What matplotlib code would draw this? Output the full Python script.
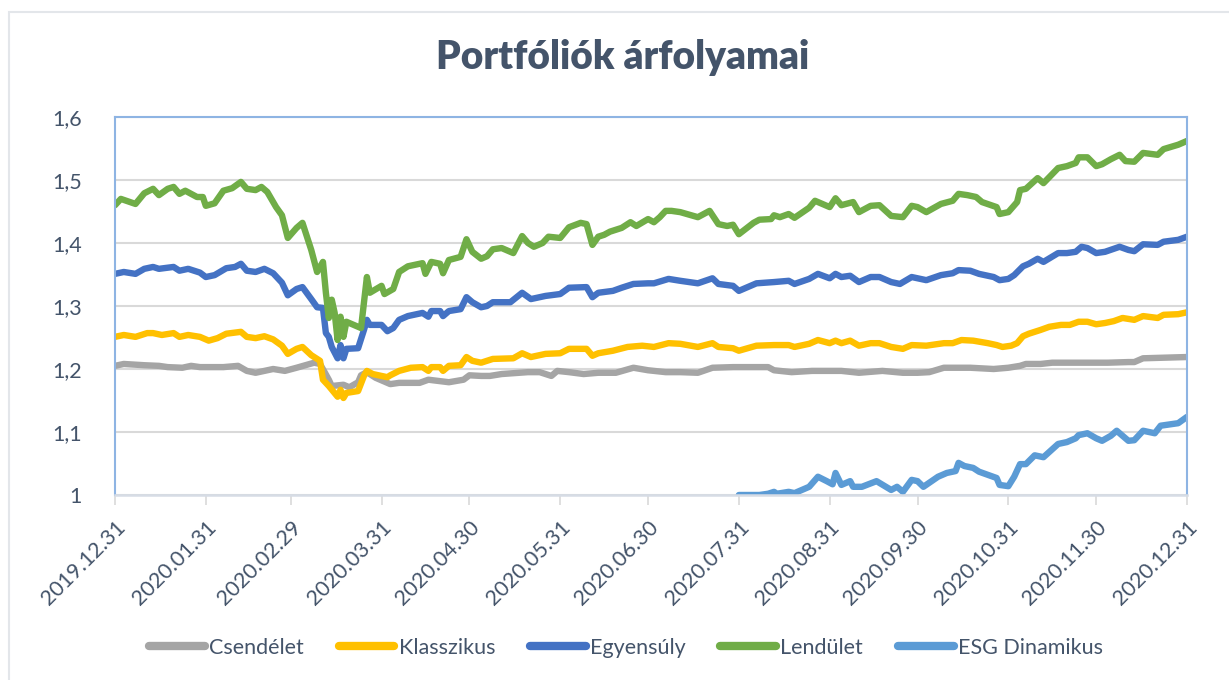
import numpy as np
import pandas as pd
import matplotlib
matplotlib.use('Agg')
import matplotlib.pyplot as plt
from matplotlib.patches import Rectangle
from matplotlib.ticker import FuncFormatter

plt.rcParams['font.family'] = ['Lato', 'DejaVu Sans']

# series: day offsets from 2019.12.31 and prices
csend_days = [0, 3, 10, 15, 18, 23, 26, 29, 33, 37, 42, 45, 48, 51, 54, 58, 62, 68, 70, 73, 74, 78, 80, 83,
              84, 86, 89, 94, 97, 104, 107, 114, 119, 121, 125, 128, 132, 141, 145, 149, 151, 155, 160, 165,
              171, 177, 182, 188, 193, 199, 204, 211, 218, 223, 225, 231, 238, 248, 254, 262, 269, 274, 278,
              283, 292, 300, 305, 309, 311, 316, 320, 332, 339, 346, 348, 351, 366]
csend_vals = [1.205, 1.208, 1.206, 1.205, 1.203, 1.202, 1.205, 1.203, 1.203, 1.203, 1.205, 1.197, 1.194,
              1.197, 1.200, 1.197, 1.202, 1.210, 1.208, 1.183, 1.173, 1.175, 1.171, 1.179, 1.190, 1.195,
              1.186, 1.176, 1.178, 1.178, 1.183, 1.179, 1.183, 1.190, 1.189, 1.189, 1.192, 1.195, 1.195,
              1.189, 1.197, 1.195, 1.192, 1.194, 1.194, 1.202, 1.198, 1.195, 1.195, 1.194, 1.202, 1.203,
              1.203, 1.203, 1.198, 1.195, 1.197, 1.197, 1.194, 1.197, 1.194, 1.194, 1.195, 1.202, 1.202,
              1.200, 1.202, 1.205, 1.208, 1.208, 1.210, 1.210, 1.210, 1.211, 1.211, 1.217, 1.219]

klassz_days = [0, 3, 7, 11, 13, 16, 20, 22, 25, 29, 32, 35, 38, 43, 45, 48, 51, 54, 57, 59, 62, 64, 67, 70,
               71, 73, 76, 77, 78, 79, 83, 85, 86, 88, 91, 93, 94, 97, 101, 105, 107, 108, 111, 112, 114,
               118, 120, 122, 125, 129, 136, 139, 142, 147, 152, 155, 161, 163, 165, 170, 175, 180, 184,
               189, 193, 199, 204, 206, 211, 213, 219, 225, 230, 232, 237, 240, 244, 246, 248, 251, 254,
               258, 261, 265, 269, 272, 277, 283, 286, 289, 293, 298, 301, 303, 306, 308, 310, 312, 316,
               319, 323, 326, 329, 332, 335, 338, 341, 344, 348, 351, 356, 358, 363, 366]
klassz_vals = [1.251, 1.254, 1.251, 1.257, 1.257, 1.254, 1.257, 1.251, 1.254, 1.251, 1.245, 1.249, 1.256,
               1.259, 1.251, 1.249, 1.252, 1.247, 1.237, 1.224, 1.232, 1.235, 1.222, 1.213, 1.183, 1.173,
               1.156, 1.167, 1.154, 1.162, 1.165, 1.189, 1.197, 1.192, 1.189, 1.187, 1.190, 1.197, 1.202,
               1.203, 1.197, 1.203, 1.203, 1.197, 1.205, 1.206, 1.219, 1.213, 1.210, 1.216, 1.217, 1.225,
               1.219, 1.224, 1.225, 1.232, 1.232, 1.221, 1.225, 1.229, 1.235, 1.237, 1.235, 1.241, 1.240,
               1.235, 1.241, 1.235, 1.233, 1.229, 1.237, 1.238, 1.238, 1.235, 1.240, 1.246, 1.241, 1.245,
               1.241, 1.245, 1.237, 1.241, 1.241, 1.235, 1.232, 1.238, 1.237, 1.241, 1.241, 1.246, 1.245,
               1.241, 1.238, 1.235, 1.237, 1.241, 1.252, 1.256, 1.262, 1.267, 1.270, 1.270, 1.275, 1.275,
               1.271, 1.273, 1.276, 1.281, 1.278, 1.284, 1.281, 1.286, 1.287, 1.290]

egyens_days = [0, 3, 7, 10, 13, 15, 20, 22, 25, 29, 31, 34, 38, 41, 43, 45, 48, 51, 54, 57, 59, 62, 64, 67,
               69, 71, 72, 73, 74, 76, 77, 78, 79, 83, 85, 86, 87, 91, 93, 95, 97, 100, 105, 107, 108, 111,
               112, 114, 118, 120, 122, 125, 127, 129, 135, 139, 142, 147, 152, 155, 161, 163, 165, 170,
               173, 177, 182, 184, 189, 193, 199, 204, 206, 211, 213, 219, 225, 230, 232, 237, 240, 244,
               246, 248, 251, 254, 258, 261, 265, 268, 272, 277, 282, 286, 288, 292, 295, 300, 302, 305,
               307, 310, 312, 315, 317, 322, 325, 328, 330, 332, 335, 338, 343, 346, 348, 351, 356, 358,
               363, 366]
egyens_vals = [1.351, 1.354, 1.351, 1.359, 1.362, 1.359, 1.362, 1.356, 1.359, 1.353, 1.346, 1.349, 1.360,
               1.362, 1.367, 1.356, 1.354, 1.359, 1.352, 1.337, 1.317, 1.327, 1.330, 1.311, 1.298, 1.297,
               1.257, 1.251, 1.235, 1.217, 1.238, 1.217, 1.232, 1.233, 1.262, 1.278, 1.270, 1.270, 1.260,
               1.265, 1.278, 1.284, 1.289, 1.283, 1.292, 1.292, 1.284, 1.292, 1.295, 1.314, 1.306, 1.298,
               1.300, 1.306, 1.306, 1.321, 1.311, 1.316, 1.319, 1.329, 1.330, 1.314, 1.321, 1.324, 1.329,
               1.335, 1.336, 1.336, 1.343, 1.340, 1.336, 1.344, 1.335, 1.332, 1.324, 1.336, 1.338, 1.340,
               1.335, 1.343, 1.351, 1.344, 1.351, 1.346, 1.348, 1.338, 1.346, 1.346, 1.338, 1.335, 1.346,
               1.341, 1.349, 1.352, 1.357, 1.356, 1.351, 1.346, 1.341, 1.343, 1.349, 1.363, 1.367, 1.375,
               1.370, 1.384, 1.384, 1.386, 1.394, 1.392, 1.384, 1.386, 1.394, 1.389, 1.387, 1.398, 1.397,
               1.402, 1.405, 1.410]

lendul_days = [0, 2, 7, 10, 13, 15, 18, 20, 22, 24, 28, 30, 31, 34, 37, 40, 43, 45, 48, 50, 52, 55, 57, 59,
               62, 64, 67, 69, 71, 72, 73, 74, 75, 76, 77, 78, 79, 84, 85, 86, 87, 91, 92, 95, 97, 100, 105,
               106, 108, 111, 112, 114, 118, 120, 122, 125, 127, 129, 132, 136, 139, 141, 143, 146, 148,
               152, 155, 159, 161, 163, 165, 167, 169, 173, 176, 178, 182, 184, 186, 188, 190, 193, 199,
               203, 206, 209, 211, 213, 218, 220, 224, 225, 227, 230, 232, 237, 239, 241, 244, 246, 248,
               252, 254, 258, 261, 265, 269, 272, 274, 277, 282, 286, 288, 291, 294, 296, 301, 302, 305,
               308, 309, 311, 315, 317, 322, 325, 328, 329, 332, 335, 337, 340, 343, 345, 348, 351, 356,
               358, 363, 366]
lendul_vals = [1.460, 1.470, 1.462, 1.479, 1.486, 1.476, 1.486, 1.489, 1.478, 1.483, 1.473, 1.473, 1.459,
               1.463, 1.483, 1.487, 1.497, 1.486, 1.484, 1.489, 1.481, 1.457, 1.444, 1.408, 1.424, 1.432,
               1.389, 1.354, 1.370, 1.321, 1.281, 1.310, 1.289, 1.246, 1.283, 1.251, 1.275, 1.265, 1.305,
               1.346, 1.321, 1.332, 1.319, 1.327, 1.354, 1.363, 1.368, 1.351, 1.370, 1.367, 1.352, 1.373,
               1.378, 1.406, 1.386, 1.375, 1.379, 1.390, 1.392, 1.384, 1.411, 1.400, 1.394, 1.400, 1.410,
               1.408, 1.425, 1.432, 1.430, 1.397, 1.410, 1.413, 1.418, 1.424, 1.433, 1.427, 1.438, 1.433,
               1.441, 1.451, 1.451, 1.449, 1.441, 1.451, 1.430, 1.427, 1.429, 1.414, 1.432, 1.437, 1.438,
               1.444, 1.441, 1.446, 1.440, 1.456, 1.467, 1.463, 1.457, 1.471, 1.460, 1.465, 1.449, 1.459,
               1.460, 1.443, 1.441, 1.459, 1.457, 1.449, 1.462, 1.467, 1.478, 1.476, 1.473, 1.465, 1.457,
               1.446, 1.449, 1.465, 1.484, 1.486, 1.503, 1.495, 1.519, 1.522, 1.527, 1.536, 1.536, 1.522,
               1.525, 1.533, 1.540, 1.530, 1.529, 1.543, 1.540, 1.549, 1.556, 1.562]

esg_days = [213, 220, 223, 225, 226, 230, 232, 237, 240, 243, 245, 246, 248, 251, 252, 255, 260, 265, 267,
            269, 272, 274, 276, 281, 284, 287, 288, 290, 293, 295, 301, 302, 305, 307, 309, 311, 314, 317,
            322, 325, 328, 329, 332, 335, 337, 340, 342, 346, 348, 351, 355, 357, 363, 366]
esg_vals = [1.000, 1.000, 1.002, 1.005, 1.002, 1.005, 1.003, 1.013, 1.029, 1.022, 1.017, 1.035, 1.016, 1.022,
            1.013, 1.013, 1.022, 1.008, 1.013, 1.005, 1.024, 1.022, 1.013, 1.029, 1.035, 1.038, 1.051, 1.046,
            1.043, 1.037, 1.027, 1.016, 1.014, 1.029, 1.049, 1.049, 1.063, 1.060, 1.081, 1.084, 1.090, 1.095,
            1.098, 1.090, 1.086, 1.094, 1.102, 1.086, 1.087, 1.102, 1.098, 1.110, 1.114, 1.124]

series_names = ['Csendélet', 'Klasszikus', 'Egyensúly', 'Lendület', 'ESG Dinamikus']
colors = ['#A5A5A5', '#FFC000', '#4472C4', '#70AD47', '#5B9BD5']

tick_labels = ['2019.12.31', '2020.01.31', '2020.02.29', '2020.03.31', '2020.04.30', '2020.05.31',
               '2020.06.30', '2020.07.31', '2020.08.31', '2020.09.30', '2020.10.31', '2020.11.30',
               '2020.12.31']
y_ticks = [1.0, 1.1, 1.2, 1.3, 1.4, 1.5, 1.6]

start = pd.Timestamp('2019-12-31')


def to_dates(days):
    return start + pd.to_timedelta(days, unit='D')


text_col = '#44546A'

fig = plt.figure(figsize=(12.29, 6.8), dpi=100)
# outer chart frame
fig.patches.append(Rectangle((9 / 1229, -0.05), 1.1, 1 - 12 / 680 + 0.05, transform=fig.transFigure,
                             fill=False, edgecolor='#E3E6EA', lw=1.5, zorder=0))

ax = fig.add_axes([115 / 1229, 1 - 495 / 680, (1187 - 115) / 1229, (495 - 117) / 680])

data = [(csend_days, csend_vals), (klassz_days, klassz_vals), (egyens_days, egyens_vals),
        (lendul_days, lendul_vals), (esg_days, esg_vals)]
for (d, v), name, c in zip(data, series_names, colors):
    ax.plot(to_dates(d), v, color=c, lw=4.6, label=name, solid_capstyle='round', solid_joinstyle='round')

ax.set_ylim(1.0, 1.6)
ax.set_yticks(y_ticks)
ax.yaxis.set_major_formatter(FuncFormatter(lambda v, p: ('%g' % round(v, 1)).replace('.', ',')))
ax.grid(axis='y', color='#D9D9D9', lw=1.5)
ax.set_axisbelow(True)

tick_dates = pd.to_datetime(tick_labels, format='%Y.%m.%d')
ax.set_xlim(tick_dates[0], tick_dates[-1])
ax.set_xticks(tick_dates)
ax.set_xticklabels(tick_labels, rotation=45, ha='right', rotation_mode='anchor')

ax.tick_params(axis='y', length=0, pad=24, labelsize=15.5, labelcolor=text_col)
ax.tick_params(axis='x', length=7, width=1.2, color='#D9D9D9', pad=9, labelsize=15.5, labelcolor=text_col)

for side in ['left', 'right', 'top']:
    ax.spines[side].set_color('#8EB4E3')
    ax.spines[side].set_linewidth(1.5)
ax.spines['bottom'].set_color('#D6DCE5')
ax.spines['bottom'].set_linewidth(1.8)

fig.text(623 / 1229, 1 - 58 / 680, 'Portfóliók árfolyamai', ha='center', va='center',
         fontsize=28, fontweight='heavy', color=text_col)

leg = fig.legend(loc='center', bbox_to_anchor=(626 / 1229, 1 - 648 / 680), ncol=5, frameon=False,
                 fontsize=15.5, handlelength=2.6, handletextpad=0.2, columnspacing=1.6)
for t in leg.get_texts():
    t.set_color(text_col)
for h in leg.get_lines():
    h.set_linewidth(6)

fig.savefig('out.png', dpi=100)
